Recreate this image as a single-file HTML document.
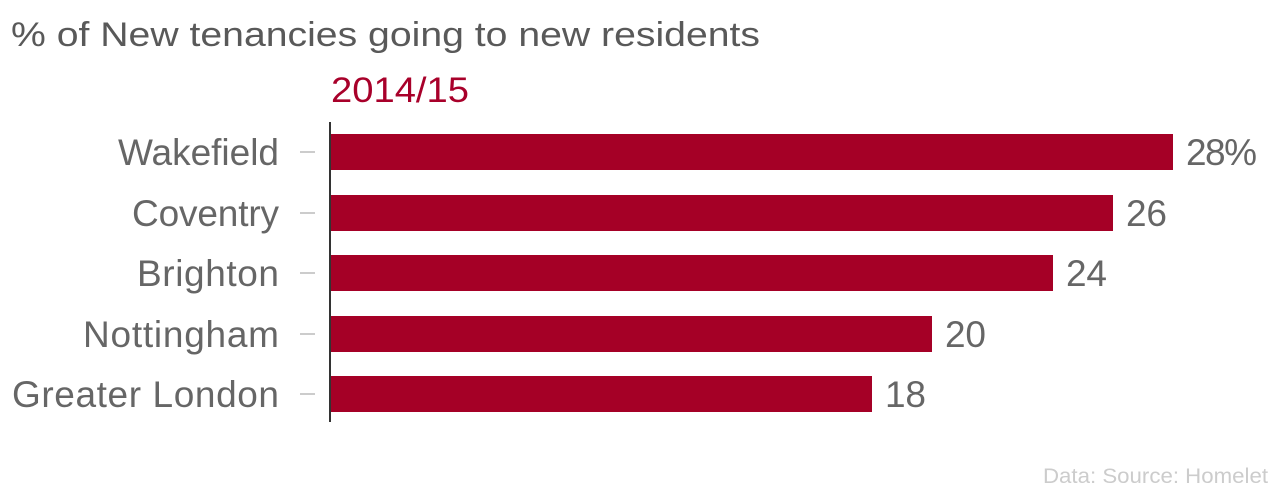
<!DOCTYPE html>
<html><head><style>
body{margin:0;width:1280px;height:490px;background:#fff;overflow:hidden;font-family:"Liberation Sans",sans-serif;}
</style></head><body>
<svg width="1280" height="490" xmlns="http://www.w3.org/2000/svg" font-family="Liberation Sans, sans-serif">
<text x="11" y="46" font-size="34" fill="#595959" textLength="749" lengthAdjust="spacingAndGlyphs">% of New tenancies going to new residents</text>
<text x="331" y="102" font-size="35" fill="#a8002a" textLength="138" lengthAdjust="spacingAndGlyphs">2014/15</text>
<line x1="330" y1="122" x2="330" y2="422" stroke="#333" stroke-width="2"/>
<g fill="#a50026">
<rect x="331" y="134" width="842" height="36"/>
<rect x="331" y="195" width="782" height="36"/>
<rect x="331" y="255" width="722" height="36"/>
<rect x="331" y="316" width="601" height="36"/>
<rect x="331" y="376" width="541" height="36"/>
</g>
<g stroke="#ccc" stroke-width="2">
<line x1="300" y1="152" x2="315" y2="152"/>
<line x1="300" y1="213" x2="315" y2="213"/>
<line x1="300" y1="273" x2="315" y2="273"/>
<line x1="300" y1="334" x2="315" y2="334"/>
<line x1="300" y1="394" x2="315" y2="394"/>
</g>
<g font-size="37" fill="#666" lengthAdjust="spacingAndGlyphs">
<text x="118" y="165" textLength="161">Wakefield</text>
<text x="132" y="226" textLength="147">Coventry</text>
<text x="137" y="286" textLength="142">Brighton</text>
<text x="83" y="347" textLength="196">Nottingham</text>
<text x="12" y="407" textLength="267">Greater London</text>
</g>
<g font-size="37" fill="#666" lengthAdjust="spacingAndGlyphs">
<text x="1186" y="165" textLength="71">28%</text>
<text x="1126" y="226" textLength="41">26</text>
<text x="1066" y="286" textLength="41">24</text>
<text x="945" y="347" textLength="41">20</text>
<text x="885" y="407" textLength="41">18</text>
</g>
<text x="1043" y="483" font-size="21" fill="#ccc" textLength="225" lengthAdjust="spacingAndGlyphs">Data: Source: Homelet</text>
</svg>
</body></html>
